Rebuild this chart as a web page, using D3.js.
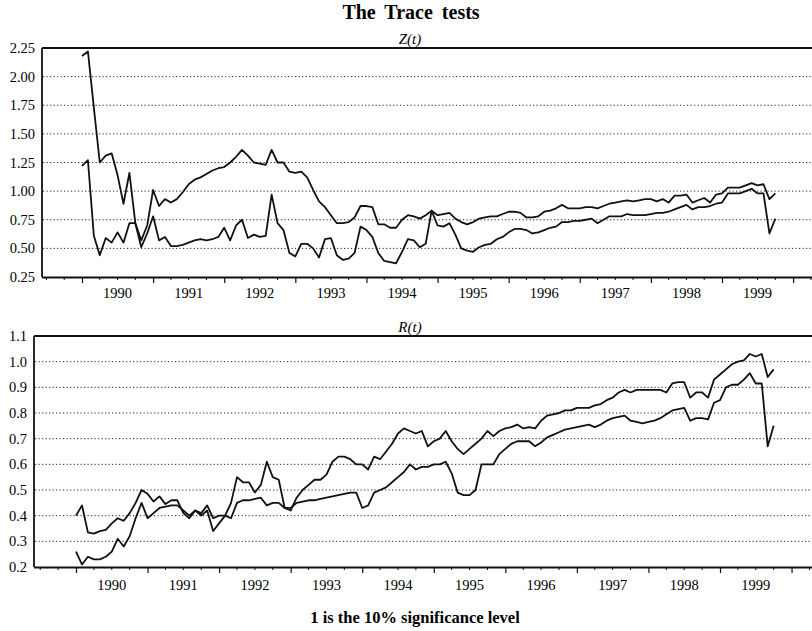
<!DOCTYPE html>
<html>
<head>
<meta charset="utf-8">
<script src="https://d3js.org/d3.v7.min.js"></script>
<style>
  body { margin: 0; background: #fff; }
  svg { display: block; font-family: "Liberation Serif", "Times New Roman", serif; }
  .grid line { stroke: #222; stroke-width: 1; stroke-dasharray: 1.2,2.3; }
</style>
</head>
<body>
<div id="chart"></div>
<script>
// monthly observations, Jan 1990 .. Oct 1999
const START_YEAR = 1990;

// Z(t) panel
const zUpper = [2.18,2.22,1.73,1.25,1.31,1.33,1.14,0.89,1.16,0.72,0.57,0.70,
  1.01,0.87,0.93,0.90,0.93,0.99,1.06,1.10,1.12,1.15,1.18,1.20,
  1.21,1.25,1.30,1.36,1.31,1.25,1.24,1.23,1.36,1.25,1.25,1.17,
  1.16,1.17,1.12,1.01,0.91,0.86,0.79,0.72,0.72,0.73,0.77,0.87,
  0.87,0.86,0.71,0.71,0.68,0.68,0.75,0.79,0.78,0.76,0.79,0.83,
  0.79,0.80,0.81,0.76,0.73,0.71,0.73,0.76,0.77,0.78,0.78,0.80,
  0.82,0.82,0.81,0.77,0.77,0.78,0.82,0.83,0.85,0.88,0.85,0.85,
  0.85,0.86,0.86,0.85,0.87,0.89,0.90,0.91,0.92,0.91,0.92,0.93,
  0.93,0.91,0.93,0.90,0.96,0.96,0.97,0.90,0.92,0.94,0.90,0.97,
  0.98,1.03,1.03,1.03,1.05,1.07,1.05,1.06,0.93,0.98];
const zLower = [1.22,1.27,0.61,0.44,0.59,0.55,0.64,0.55,0.72,0.72,0.51,0.63,
  0.78,0.57,0.60,0.52,0.52,0.53,0.55,0.57,0.58,0.57,0.58,0.60,
  0.68,0.57,0.70,0.75,0.59,0.62,0.60,0.61,0.97,0.72,0.66,0.46,
  0.43,0.54,0.54,0.50,0.42,0.58,0.59,0.44,0.40,0.41,0.46,0.69,
  0.66,0.60,0.46,0.39,0.38,0.37,0.47,0.58,0.57,0.51,0.54,0.83,
  0.70,0.69,0.72,0.62,0.50,0.48,0.47,0.51,0.53,0.54,0.58,0.60,
  0.64,0.67,0.67,0.66,0.63,0.64,0.66,0.68,0.69,0.73,0.73,0.74,
  0.74,0.75,0.76,0.72,0.75,0.78,0.78,0.78,0.80,0.79,0.79,0.79,
  0.80,0.81,0.81,0.82,0.84,0.86,0.88,0.84,0.86,0.86,0.87,0.89,
  0.90,0.98,0.98,0.98,1.00,1.02,0.98,0.98,0.63,0.76];

// R(t) panel
const rUpper = [0.40,0.44,0.335,0.33,0.34,0.345,0.37,0.39,0.38,0.41,0.45,0.50,
  0.485,0.455,0.475,0.445,0.46,0.46,0.41,0.39,0.42,0.40,0.42,0.34,
  0.37,0.40,0.45,0.55,0.53,0.53,0.49,0.52,0.61,0.55,0.54,0.43,
  0.42,0.47,0.50,0.52,0.54,0.54,0.56,0.61,0.63,0.63,0.62,0.60,
  0.60,0.58,0.63,0.62,0.65,0.68,0.72,0.74,0.73,0.72,0.73,0.67,
  0.69,0.70,0.73,0.69,0.66,0.64,0.66,0.68,0.70,0.73,0.71,0.73,
  0.74,0.745,0.755,0.74,0.745,0.74,0.77,0.79,0.795,0.80,0.81,0.81,
  0.82,0.82,0.82,0.83,0.835,0.85,0.86,0.88,0.89,0.88,0.89,0.89,
  0.89,0.89,0.89,0.88,0.915,0.92,0.92,0.86,0.88,0.88,0.86,0.93,
  0.95,0.97,0.99,1.00,1.005,1.03,1.02,1.03,0.94,0.97];
const rLower = [0.26,0.21,0.24,0.23,0.23,0.24,0.26,0.31,0.28,0.32,0.39,0.45,
  0.39,0.41,0.43,0.435,0.44,0.44,0.42,0.40,0.42,0.41,0.44,0.39,
  0.40,0.40,0.39,0.45,0.46,0.46,0.465,0.47,0.44,0.45,0.45,0.43,
  0.43,0.45,0.455,0.46,0.46,0.465,0.47,0.475,0.48,0.485,0.49,0.49,
  0.43,0.44,0.49,0.50,0.51,0.53,0.55,0.57,0.60,0.58,0.59,0.59,
  0.60,0.60,0.61,0.565,0.49,0.48,0.48,0.50,0.60,0.60,0.60,0.64,
  0.66,0.68,0.69,0.69,0.69,0.67,0.685,0.705,0.715,0.725,0.735,0.74,
  0.745,0.75,0.755,0.745,0.755,0.77,0.78,0.785,0.79,0.77,0.765,0.76,
  0.765,0.77,0.78,0.795,0.81,0.815,0.82,0.77,0.78,0.78,0.775,0.84,
  0.85,0.90,0.91,0.91,0.93,0.955,0.915,0.915,0.67,0.75];

const zTicks = [0.25,0.50,0.75,1.00,1.25,1.50,1.75,2.00,2.25];
const rTicks = [0.2,0.3,0.4,0.5,0.6,0.7,0.8,0.9,1.0,1.1];
const yearLabels = [1990,1991,1992,1993,1994,1995,1996,1997,1998,1999];

const W = 812, H = 631;
const svg = d3.select("#chart").append("svg")
  .attr("width", W).attr("height", H);

svg.append("text")
  .attr("x", 411).attr("y", 19)
  .attr("text-anchor", "middle")
  .style("font-size", "20px").style("font-weight", "bold")
  .style("word-spacing", "4px")
  .text("The Trace tests");

svg.append("text")
  .attr("x", 415).attr("y", 623)
  .attr("text-anchor", "middle")
  .style("font-size", "16.5px").style("font-weight", "bold")
  .text("1 is the 10% significance level");

function drawPanel(opts) {
  const { left, top, bottom, title, domainY, ticks, fmt, series, x0, x1, labelDy } = opts;
  const right = W;
  // fractional-year x scale; x0 / x1 are the 1990 and 1999 tick positions
  const perYear = (x1 - x0) / 9;
  const x = d3.scaleLinear()
    .domain([1990 - (x0 - left) / perYear, 1990 + (right - x0) / perYear])
    .range([left, right]);
  const y = d3.scaleLinear().domain(domainY).range([bottom, top]);

  const g = svg.append("g");

  // dotted gridlines
  g.append("g").attr("class", "grid")
    .selectAll("line")
    .data(ticks.slice(1, -1))
    .join("line")
    .attr("x1", left + 1).attr("x2", right)
    .attr("y1", d => y(d)).attr("y2", d => y(d));

  // y tick labels
  g.append("g")
    .selectAll("text")
    .data(ticks)
    .join("text")
    .attr("x", left - 7)
    .attr("y", d => y(d) + 5)
    .attr("text-anchor", "end")
    .style("font-size", "14.5px")
    .text(d => fmt(d));

  // frame: top line, left axis, bottom axis
  g.append("line").attr("x1", left).attr("x2", right)
    .attr("y1", top).attr("y2", top)
    .attr("stroke", "#111").attr("stroke-width", 1.8);
  g.append("line").attr("x1", left).attr("x2", left)
    .attr("y1", top).attr("y2", bottom)
    .attr("stroke", "#111").attr("stroke-width", 1.8);

  const axis = d3.axisBottom(x)
    .tickValues(d3.range(1990, 2000.01, 1))
    .tickSize(6)
    .tickFormat("");
  const axisG = g.append("g")
    .attr("transform", `translate(0,${bottom})`)
    .call(axis);
  axisG.select(".domain").attr("stroke", "#111").attr("stroke-width", 1.8)
    .attr("d", `M${left},0.5H${right}`);
  axisG.selectAll(".tick line").attr("stroke", "#111").attr("stroke-width", 1.2);

  // quarterly minor ticks
  const minor = d3.range(1989.5, 2000.3, 0.25).filter(t => t % 1 !== 0);
  g.append("g")
    .selectAll("line")
    .data(minor.filter(t => x(t) > left + 2))
    .join("line")
    .attr("x1", d => x(d)).attr("x2", d => x(d))
    .attr("y1", bottom).attr("y2", bottom + 3)
    .attr("stroke", "#111").attr("stroke-width", 1);

  // year labels centred in each year
  g.append("g")
    .selectAll("text")
    .data(yearLabels)
    .join("text")
    .attr("x", d => x(d + 0.5))
    .attr("y", bottom + labelDy)
    .attr("text-anchor", "middle")
    .style("font-size", "14.5px")
    .text(d => d);

  // panel subtitle
  g.append("text")
    .attr("x", 410).attr("y", top - 4)
    .attr("text-anchor", "middle")
    .style("font-size", "15px").style("font-style", "italic")
    .text(title);

  const line = d3.line()
    .x((d, i) => x(START_YEAR + i / 12))
    .y(d => y(d));

  g.append("g")
    .selectAll("path")
    .data(series)
    .join("path")
    .attr("fill", "none")
    .attr("stroke", "#111")
    .attr("stroke-width", 1.8)
    .attr("stroke-linejoin", "round")
    .attr("d", d => line(d));
}

drawPanel({
  left: 42, top: 48, bottom: 277,
  x0: 82, x1: 722,
  title: "Z(t)",
  domainY: [0.25, 2.25],
  ticks: zTicks,
  fmt: d3.format(".2f"),
  series: [zUpper, zLower],
  labelDy: 21
});

drawPanel({
  left: 34, top: 336, bottom: 567,
  x0: 76, x1: 720,
  title: "R(t)",
  domainY: [0.2, 1.1],
  ticks: rTicks,
  fmt: d3.format(".1f"),
  series: [rUpper, rLower],
  labelDy: 23
});
</script>
</body>
</html>
